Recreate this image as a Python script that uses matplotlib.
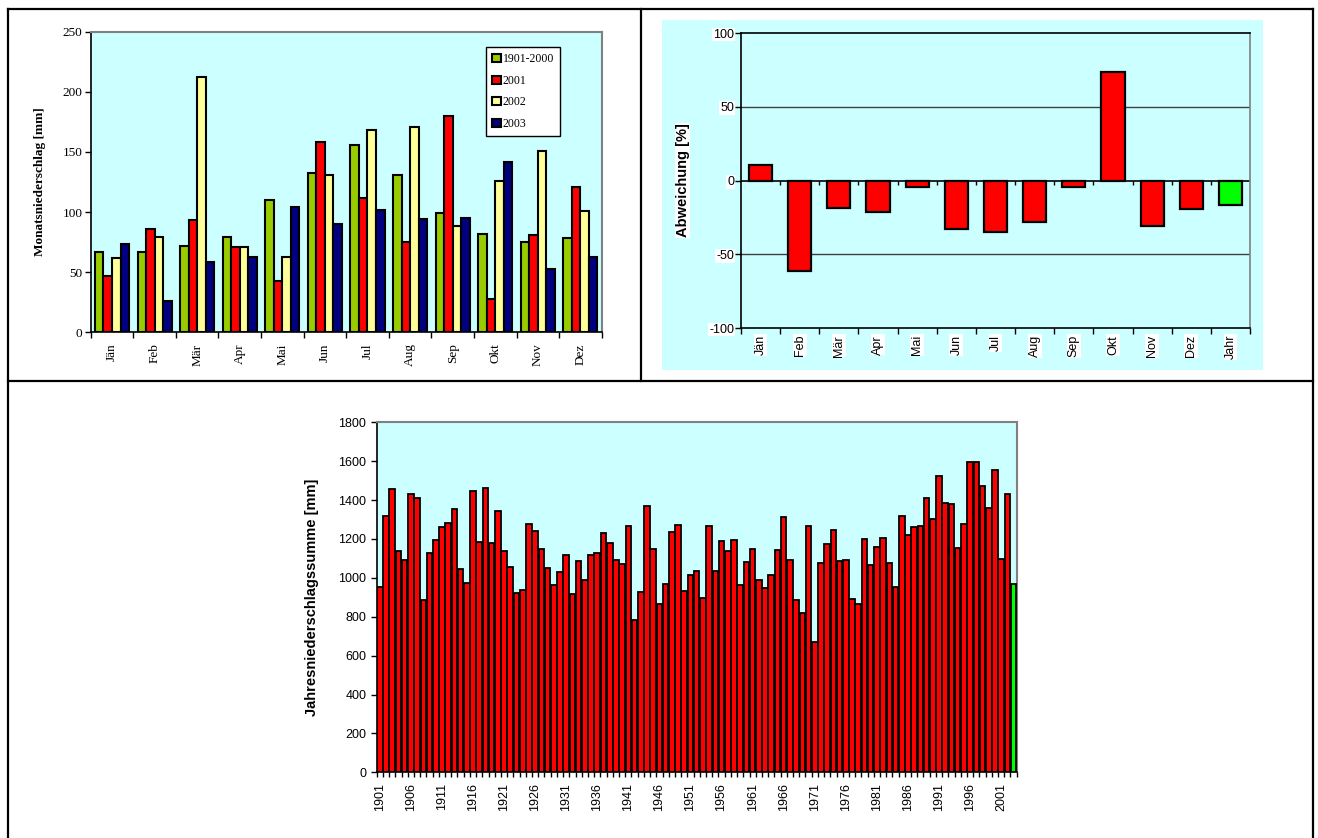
import matplotlib
matplotlib.use('Agg')
import matplotlib.pyplot as plt
import numpy as np
from matplotlib.lines import Line2D
from matplotlib.patches import Rectangle

# -----------------------------------------------------------------------------
# Data
# -----------------------------------------------------------------------------

months = ['Jän', 'Feb', 'Mär', 'Apr', 'Mai', 'Jun',
          'Jul', 'Aug', 'Sep', 'Okt', 'Nov', 'Dez']

# Monthly precipitation [mm]
p_1901_2000 = [66.5, 66.5, 71.5, 79.5, 109.8, 132.8, 155.8, 130.8, 99.0, 81.8, 74.8, 78.2]
p_2001 = [46.6, 86.0, 93.0, 70.7, 42.7, 158.6, 112.0, 74.8, 179.6, 28.0, 80.7, 120.6]
p_2002 = [62.0, 79.5, 212.6, 71.2, 62.6, 130.8, 168.3, 170.8, 88.4, 126.1, 151.0, 101.2]
p_2003 = [73.5, 25.8, 58.8, 62.6, 104.5, 89.8, 102.0, 94.2, 95.1, 141.9, 52.4, 62.6]
series_labels = ['1901-2000', '2001', '2002', '2003']

# Deviation of 2003 from the 1901-2000 mean [%]
dev_labels = months + ['Jahr']
dev_2003 = [10.6, -61.3, -18.6, -21.3, -4.3, -32.8, -35.1, -28.3, -4.3, 73.8, -31.0, -19.5, -16.3]

# Annual precipitation totals [mm], 1901-2003
years = list(range(1901, 2004))
annual = [951, 1320, 1459, 1138, 1092, 1431, 1409, 886, 1130, 1195,
          1260, 1282, 1356, 1044, 972, 1445, 1186, 1460, 1181, 1342,
          1140, 1058, 920, 938, 1279, 1241, 1147, 1051, 962, 1030,
          1119, 919, 1088, 989, 1116, 1126, 1229, 1178, 1090, 1070,
          1265, 783, 927, 1368, 1147, 864, 968, 1234, 1274, 932,
          1013, 1037, 895, 1265, 1035, 1191, 1138, 1196, 963, 1080,
          1148, 987, 948, 1013, 1145, 1315, 1090, 888, 818, 1267,
          670, 1078, 1172, 1246, 1085, 1092, 891, 864, 1200, 1066,
          1159, 1203, 1075, 951, 1316, 1222, 1260, 1268, 1411, 1304,
          1524, 1385, 1378, 1152, 1279, 1594, 1594, 1472, 1357, 1555,
          1095, 1430, 967]

# -----------------------------------------------------------------------------
# Styling
# -----------------------------------------------------------------------------

plt.rcParams['axes.unicode_minus'] = False

CYAN = '#CCFFFF'
RED = '#FF0000'
LIME = '#00FF00'
SERIES_COLORS = ['#99CC00', '#FF0000', '#FFFF99', '#000080']
SERIF = 'Liberation Serif'
SANS = 'Liberation Sans'

W, H = 1318, 838
fig = plt.figure(figsize=(W / 100, H / 100), dpi=100)


def px_box(left, top, right, bottom):
    """Axes rectangle from pixel edges (origin top-left)."""
    return [left / W, 1 - bottom / H, (right - left) / W, (bottom - top) / H]


def fig_line(x0, y0, x1, y1, lw=1.6):
    fig.add_artist(Line2D([x0 / W, x1 / W], [1 - y0 / H, 1 - y1 / H],
                          transform=fig.transFigure, color='black',
                          linewidth=lw, solid_capstyle='projecting'))


# Frame lines around the three panels
fig_line(7.5, 8.7, 1313, 8.7)
fig_line(7.5, 8.7, 7.5, 845)
fig_line(1313, 8.7, 1313, 845)
fig_line(7.5, 380.7, 1313, 380.7)
fig_line(641, 8.7, 641, 380.7)

# -----------------------------------------------------------------------------
# Monthly precipitation, grouped bars
# -----------------------------------------------------------------------------

ax1 = fig.add_axes(px_box(90.7, 31.7, 601.7, 332.3))
ax1.set_facecolor(CYAN)
x = np.arange(len(months))
bw = 0.2
for i, (vals, lab, col) in enumerate(zip([p_1901_2000, p_2001, p_2002, p_2003],
                                         series_labels, SERIES_COLORS)):
    ax1.bar(x + (i - 1.5) * bw, vals, bw, color=col, edgecolor='black',
            linewidth=1.5, label=lab, zorder=3)
ax1.set_xlim(-0.5, len(months) - 0.5)
ax1.set_ylim(0, 250)
ax1.set_yticks(np.arange(0, 251, 50))
ax1.set_xticks(np.arange(-0.5, len(months)), labels=[])
ax1.set_xticks(x, labels=months, minor=True)
ax1.tick_params(axis='x', which='major', length=4.5, width=1, direction='out')
ax1.tick_params(axis='x', which='minor', length=0, pad=8, rotation=90)
ax1.tick_params(axis='y', length=4, width=1, pad=2)
for lbl in ax1.get_xticklabels(minor=True) + ax1.get_yticklabels():
    lbl.set_fontfamily(SERIF)
    lbl.set_fontsize(9.5)
ax1.set_ylabel('Monatsniederschlag [mm]', fontfamily=SERIF, fontsize=9.5,
               fontweight='bold', labelpad=12)
for side in ('top', 'right'):
    ax1.spines[side].set_color('#808080')
    ax1.spines[side].set_linewidth(1.5)
for side in ('left', 'bottom'):
    ax1.spines[side].set_linewidth(1.2)
leg = ax1.legend(loc='upper left', bbox_to_anchor=(486 / W, 1 - 47 / H),
                 bbox_transform=fig.transFigure, prop={'family': SERIF, 'size': 8.5},
                 handlelength=0.7, handleheight=0.7, handletextpad=0.15,
                 labelspacing=0.8, borderpad=0.55, borderaxespad=0,
                 fancybox=False, framealpha=1, edgecolor='black')
leg.get_frame().set_linewidth(1.0)

# -----------------------------------------------------------------------------
# Deviation 2003 vs. long-term mean
# -----------------------------------------------------------------------------

fig.add_artist(Rectangle((662 / W, 1 - 370 / H), (1263 - 662) / W, (370 - 20) / H,
                         transform=fig.transFigure, facecolor=CYAN,
                         edgecolor='none', zorder=-5))

ax2 = fig.add_axes(px_box(741, 33, 1250, 328))
ax2.set_facecolor(CYAN)
xd = np.arange(len(dev_labels))
dev_colors = [RED] * (len(dev_labels) - 1) + [LIME]
ax2.bar(xd, dev_2003, 0.59, color=dev_colors, edgecolor='black',
        linewidth=1.6, zorder=3)
ax2.set_xlim(-0.5, len(dev_labels) - 0.5)
ax2.set_ylim(-100, 100)
ax2.set_yticks([-100, -50, 0, 50, 100])
for yv in (-50, 50):
    ax2.axhline(yv, color='#404040', linewidth=1.0, zorder=1)
ax2.axhline(0, color='black', linewidth=1.2, zorder=2)
bounds = np.arange(-0.5, len(dev_labels))
ax2.vlines(bounds[1:-1], -2.8, 0, color='black', linewidth=1.0, zorder=2)
ax2.set_xticks(bounds, labels=[])
ax2.set_xticks(xd, labels=dev_labels, minor=True)
ax2.tick_params(axis='x', which='major', length=4, width=1)
ax2.tick_params(axis='x', which='minor', length=0, pad=5, rotation=90)
ax2.tick_params(axis='y', length=4, width=1, pad=1)
for lbl in ax2.get_xticklabels(minor=True) + ax2.get_yticklabels():
    lbl.set_fontfamily(SANS)
    lbl.set_fontsize(9)
    lbl.set_bbox(dict(facecolor='white', edgecolor='none', pad=0.6))
ax2.set_ylabel('Abweichung [%]', fontfamily=SANS, fontsize=10.5,
               fontweight='bold', labelpad=14,
               bbox=dict(facecolor='white', edgecolor='none', pad=0.6))
ax2.spines['right'].set_color('#808080')
for side in ('left', 'bottom', 'top', 'right'):
    ax2.spines[side].set_linewidth(1.2)

# -----------------------------------------------------------------------------
# Annual totals 1901-2003
# -----------------------------------------------------------------------------

ax3 = fig.add_axes(px_box(376.7, 422.3, 1016.7, 772.3))
ax3.set_facecolor(CYAN)
xa = np.arange(len(years))
annual_colors = [RED] * (len(years) - 1) + [LIME]
ax3.bar(xa, annual, 0.9, color=annual_colors, edgecolor='black',
        linewidth=1.3, zorder=3)
ax3.set_xlim(-0.5, len(years) - 0.5)
ax3.set_ylim(0, 1800)
ax3.set_yticks(np.arange(0, 1801, 200))
ax3.set_xticks(np.arange(-0.5, len(years)), labels=[])
label_idx = xa[::5]
ax3.set_xticks(label_idx, labels=[str(years[i]) for i in label_idx], minor=True)
ax3.tick_params(axis='x', which='major', length=3.5, width=1)
ax3.tick_params(axis='x', which='minor', length=0, pad=7.5, rotation=90)
ax3.tick_params(axis='y', length=4, width=1, pad=3.5)
for lbl in ax3.get_xticklabels(minor=True) + ax3.get_yticklabels():
    lbl.set_fontfamily(SANS)
    lbl.set_fontsize(9)
ax3.set_ylabel('Jahresniederschlagssumme [mm]', fontfamily=SANS, fontsize=10.5,
               fontweight='bold', labelpad=14)
for side in ('top', 'right'):
    ax3.spines[side].set_color('#808080')
    ax3.spines[side].set_linewidth(1.5)
for side in ('left', 'bottom'):
    ax3.spines[side].set_linewidth(1.2)

fig.savefig('out.png', dpi=100)
